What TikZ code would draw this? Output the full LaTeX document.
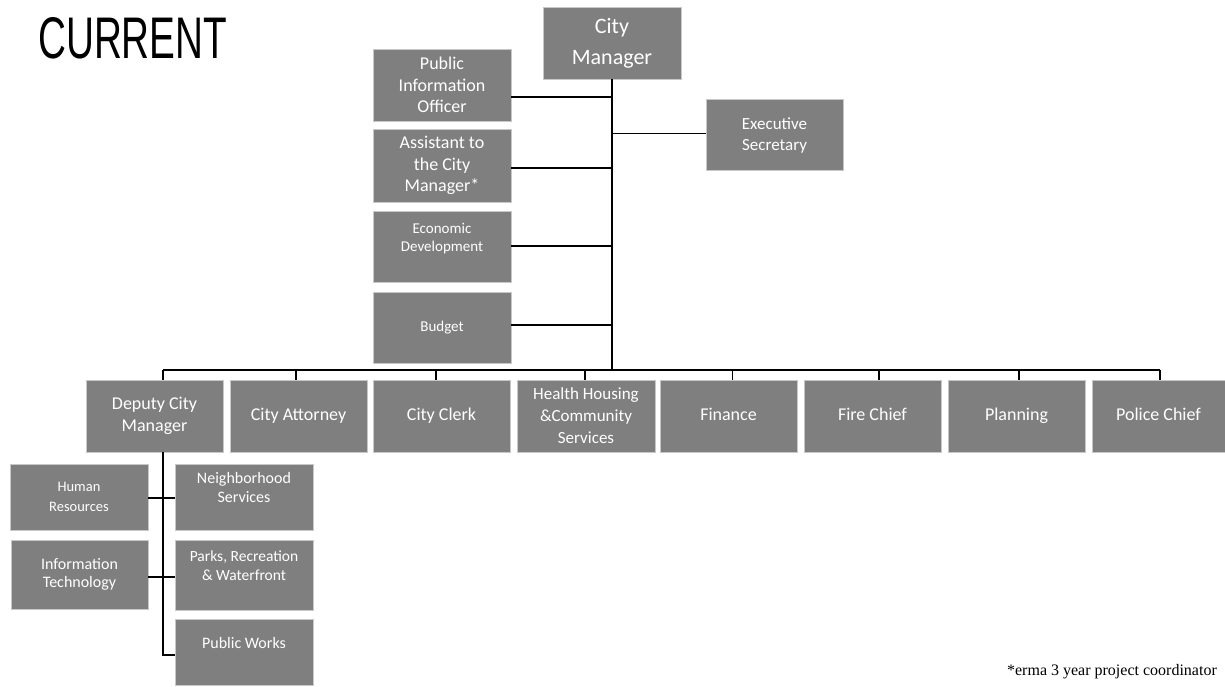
\documentclass[tikz,border=0pt]{standalone}
\usepackage{fontspec}
\setmainfont{Carlito}
\newfontfamily\titlefont{Liberation Sans}
\newfontfamily\notefont{Liberation Serif}
\definecolor{boxgray}{RGB}{127,127,127}
\definecolor{boxedge}{RGB}{200,200,200}
\newcommand{\fs}[2]{\fontsize{#1}{#2}\selectfont}
\newcommand{\st}{\rule[-4.5pt]{0pt}{17pt}}
\tikzset{
  orgbox/.style={fill=boxgray, draw=boxedge, line width=0.6pt, text=white,
    minimum width=137pt, minimum height=72pt, inner sep=2pt, align=center,
    font=\fs{18}{21.5}},
  link/.style={draw=black, line width=1.2pt}
}
\begin{document}
\begin{tikzpicture}[x=1pt,y=-1pt]
\useasboundingbox (0,0) rectangle (1225,686);
% title
\node[anchor=north west, inner sep=0pt] (title) at (38,17)
  {\resizebox{189pt}{41pt}{\titlefont CURRENT}};
% top
\node[orgbox, minimum width=138pt, font=\fs{22}{31}] (cm) at (612,43) {City\\Manager};
\node[orgbox, minimum height=71pt, font=\fs{17}{21}] (exec) at (774.5,135) {Executive\\Secretary};
\node[orgbox, minimum width=138pt] (pio) at (442,85) {Public\\Information\\Officer};
\node[orgbox, minimum width=138pt, minimum height=73pt] (asst) at (442,165.5) {Assistant to\\the City\\Manager*};
\node[orgbox, minimum width=138pt, minimum height=71pt, font=\fs{15}{18}] (econ) at (442,246.5) {Economic\\Development\\\mbox{}};
\node[orgbox, minimum width=138pt, minimum height=71pt, font=\fs{15}{18}] (budget) at (442,327.5) {\st Budget};
% bottom row
\node[orgbox] (dep) at (154.5,416) {Deputy City\\Manager};
\node[orgbox] (att) at (298.5,416) {\st City Attorney};
\node[orgbox] (clerk) at (441.5,416) {\st City Clerk};
\node[orgbox, minimum width=138pt, font=\fs{17}{22}] (health) at (586,416) {Health Housing\\\&Community\\Services};
\node[orgbox] (fin) at (728.5,416) {\st Finance};
\node[orgbox] (fire) at (872.5,416) {\st Fire Chief};
\node[orgbox] (plan) at (1016.5,416) {\st Planning};
\node[orgbox, minimum width=133pt] (police) at (1158.5,416) {\st Police Chief};
% deputy subtree
\node[orgbox, minimum width=138pt, minimum height=66pt, font=\fs{14.5}{20}] (hr) at (79,497) {Human\\Resources};
\node[orgbox, minimum width=138pt, minimum height=66pt, font=\fs{16}{19}] (ns) at (244,497) {Neighborhood\\Services\\\mbox{}};
\node[orgbox, minimum height=69pt, font=\fs{16}{18}] (it) at (79.5,574.5) {Information\\Technology};
\node[orgbox, minimum width=138pt, minimum height=70pt, font=\fs{15.5}{19}] (parks) at (244,575) {Parks, Recreation\\\& Waterfront\\\mbox{}};
\node[orgbox, minimum width=138pt, minimum height=66pt, font=\fs{16}{19}] (pw) at (244,652) {\st Public Works\\\mbox{}};
% footnote
\node[anchor=east, inner sep=0pt, font=\notefont\fs{16}{18}] (note) at (1217,672) {*erma 3 year project coordinator};
% connectors
\coordinate (j) at (cm.south |- 0,370);
\coordinate (busL) at (163,370);
\coordinate (busR) at (1160,370);
\draw[link] (cm.south) -- (j);
\draw[link] (busL) -- (busR);
\draw[link] ([yshift=1.5pt]exec.west) -- ([yshift=1.5pt]exec.west -| j);
\draw[link] ([yshift=-12pt]pio.east) -- ([yshift=-12pt]pio.east -| j);
\draw[link] ([yshift=-2.5pt]asst.east) -- ([yshift=-2.5pt]asst.east -| j);
\draw[link] ([yshift=0.5pt]econ.east) -- ([yshift=0.5pt]econ.east -| j);
\draw[link] ([yshift=2.5pt]budget.east) -- ([yshift=2.5pt]budget.east -| j);
\draw[link] (busL) -- (busL |- dep.north);
\draw[link] ([xshift=-2.5pt]att.north) -- ([xshift=-2.5pt]att.north |- busL);
\draw[link] ([xshift=-5.5pt]clerk.north) -- ([xshift=-5.5pt]clerk.north |- busL);
\draw[link] ([xshift=-1pt]health.north) -- ([xshift=-1pt]health.north |- busL);
\draw[link] ([xshift=4pt]fin.north) -- ([xshift=4pt]fin.north |- busL);
\draw[link] ([xshift=6.5pt]fire.north) -- ([xshift=6.5pt]fire.north |- busL);
\draw[link] ([xshift=2.5pt]plan.north) -- ([xshift=2.5pt]plan.north |- busL);
\draw[link] ([xshift=1.5pt]police.north) -- ([xshift=1.5pt]police.north |- busL);
\draw[link] ([xshift=8.5pt]dep.south) |- ([yshift=-3pt]pw.west);
\draw[link] ([yshift=-1pt]hr.east) -- ([yshift=-1pt]hr.east -| ns.west);
\draw[link] ([yshift=-2.5pt]it.east) -- ([yshift=-2.5pt]it.east -| parks.west);
\end{tikzpicture}
\end{document}
